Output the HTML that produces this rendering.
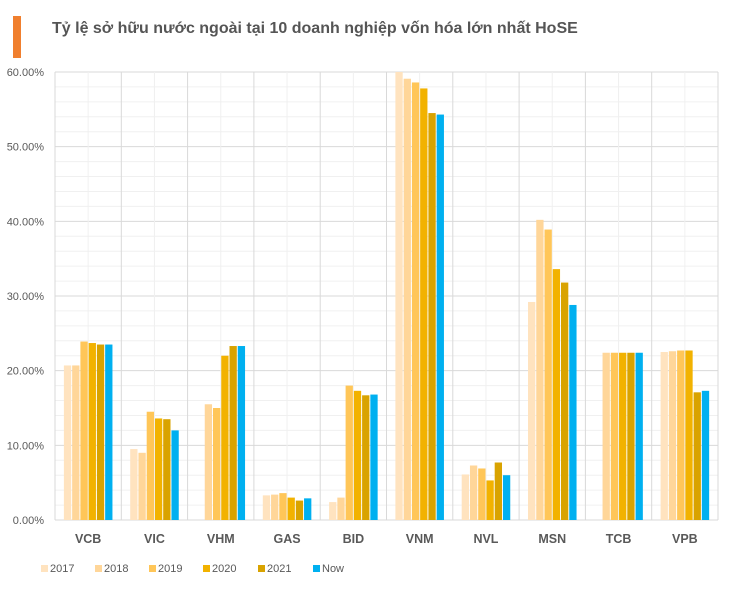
<!DOCTYPE html>
<html><head><meta charset="utf-8">
<style>
body{margin:0;width:730px;height:586px;background:#fff;font-family:"Liberation Sans","DejaVu Sans",sans-serif;overflow:hidden}
</style></head><body>
<svg id="c" width="730" height="586">
<rect x="13" y="16" width="8" height="42" fill="#F07F2E"/>
<text x="52" y="33" font-size="16" font-weight="bold" fill="#555">Tỷ lệ sở hữu nước ngoài tại 10 doanh nghiệp vốn hóa lớn nhất HoSE</text>
<g id="grid"></g><g id="bars"></g><g id="labels"></g><g id="legend"></g>
</svg>
<script>
const categories=["VCB","VIC","VHM","GAS","BID","VNM","NVL","MSN","TCB","VPB"];
const seriesNames=["2017","2018","2019","2020","2021","Now"];
const s2017=[20.7,9.5,null,3.3,2.4,60.0,6.1,29.2,null,22.5];
const s2018=[20.7,9.0,15.5,3.4,3.0,59.1,7.3,40.2,22.4,22.6];
const s2019=[23.9,14.5,15.0,3.6,18.0,58.6,6.9,38.9,22.4,22.7];
const s2020=[23.7,13.6,22.0,3.0,17.3,57.8,5.3,33.6,22.4,22.7];
const s2021=[23.5,13.5,23.3,2.6,16.7,54.5,7.7,31.8,22.4,17.1];
const sNow=[23.5,12.0,23.3,2.9,16.8,54.3,6.0,28.8,22.4,17.3];
const yTicks=[0,10,20,30,40,50,60];
const series=[s2017,s2018,s2019,s2020,s2021,sNow];
const colors=["#FFE3BF","#FFD699","#FFC658","#F2B200","#D9A300","#00B0F0"];
const L=55,R=718,T=72,B=520,NS="http://www.w3.org/2000/svg";
const cw=(R-L)/categories.length;
const y=v=>B-(v/60)*(B-T);
const x=i=>L+i*cw;
function el(t,a,p){const e=document.createElementNS(NS,t);for(const k in a)e.setAttribute(k,a[k]);document.getElementById(p).appendChild(e);return e;}
for(let v=0;v<=60;v+=2){const l=el('line',{x1:L,x2:R,y1:y(v),y2:y(v),stroke:v%10==0?'#d9d9d9':'#f0f0f0','stroke-width':1},'grid');

}
for(let i=0;i<=categories.length*2;i++){const xx=L+i*cw/2;const l=el('line',{x1:xx,x2:xx,y1:T,y2:B,stroke:i%2==0?'#d9d9d9':'#f0f0f0','stroke-width':1},'grid');

}
yTicks.forEach(v=>{const t=el('text',{x:44,y:y(v)+4,'font-size':11,fill:'#595959','text-anchor':'end'},'labels');t.textContent=v.toFixed(2)+'%';

});
const pitch=8.25,bw=7.3;
categories.forEach((c,i)=>{
 const start=x(i)+(cw-pitch*6)/2+0.5;
 series.forEach((s,j)=>{const v=s[i];if(v==null)return;
  const r=el('rect',{x:start+j*pitch,y:y(v),width:bw,height:B-y(v),fill:colors[j]},'bars');
  
  });
 const t=el('text',{x:x(i)+cw/2,y:543,'font-size':12.5,'font-weight':'bold',fill:'#595959','text-anchor':'middle'},'labels');t.textContent=c;
 
 
});
const lx=[41,95,149,203,258,313];
seriesNames.forEach((n,j)=>{
 const g=el('g',{},'legend');
 
 
 const r=document.createElementNS(NS,'rect');r.setAttribute('x',lx[j]);r.setAttribute('y',565);r.setAttribute('width',7);r.setAttribute('height',7);r.setAttribute('fill',colors[j]);g.appendChild(r);
 const t=document.createElementNS(NS,'text');t.setAttribute('x',lx[j]+9);t.setAttribute('y',572);t.setAttribute('font-size',11);t.setAttribute('fill','#595959');t.textContent=n;g.appendChild(t);
});
</script>
</body></html>
